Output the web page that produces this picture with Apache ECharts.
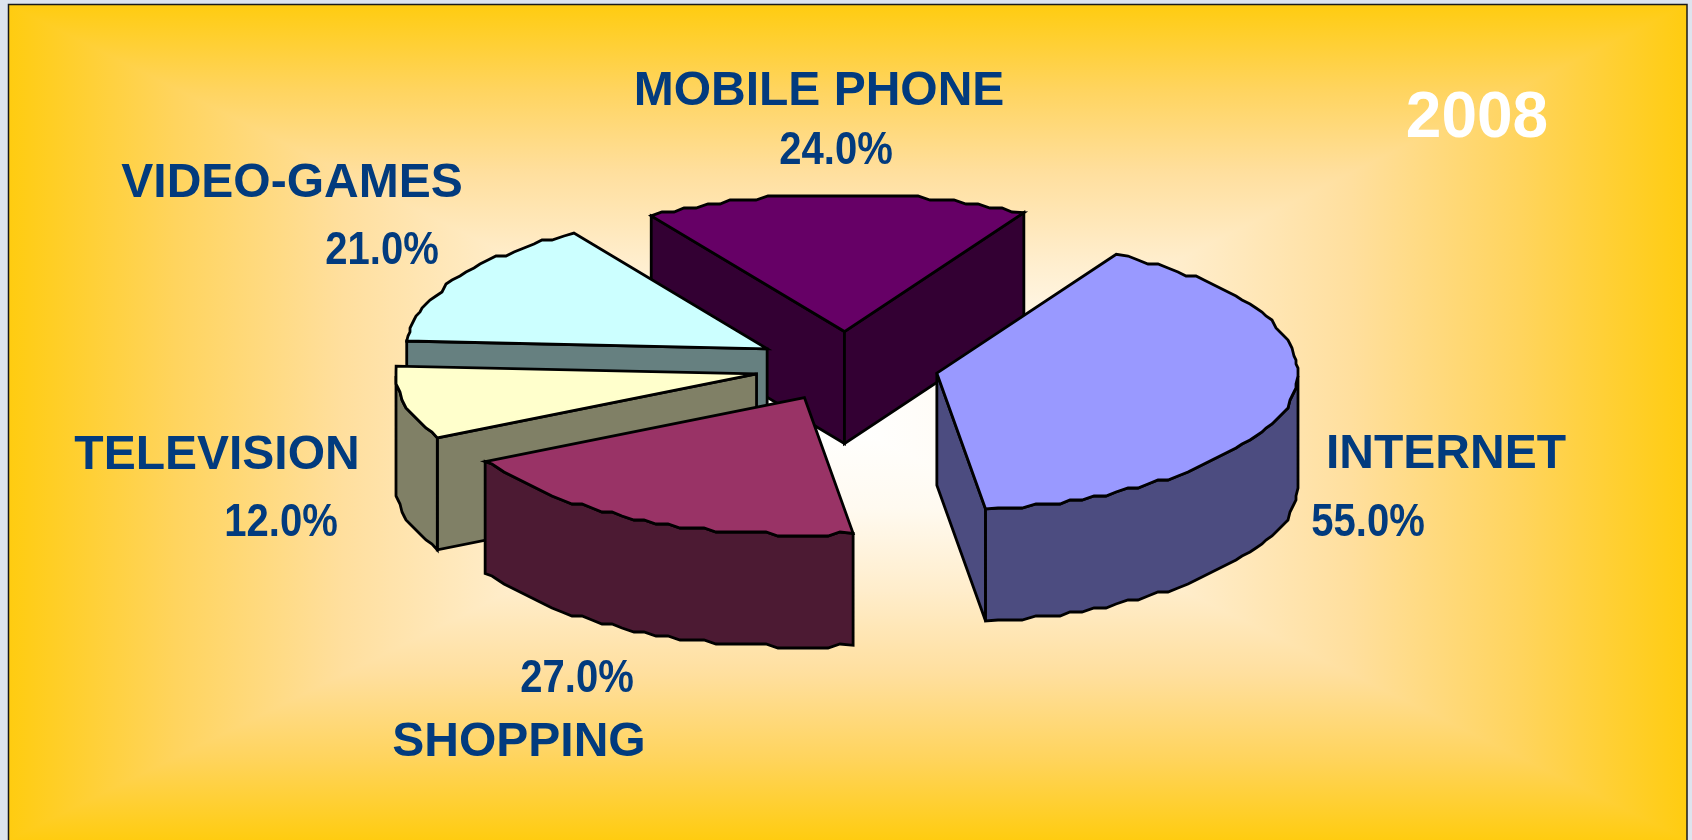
<!DOCTYPE html>
<html>
<head>
<meta charset="utf-8">
<style>html,body{margin:0;padding:0;background:#DDE4EE;}#c{width:1692px;height:840px;}</style>
<script src="https://cdn.jsdelivr.net/npm/echarts@6/dist/echarts.min.js"></script>
</head>
<body>
<div id="c"></div>
<script>
// ---- data ----
const categories = ['INTERNET', 'SHOPPING', 'TELEVISION', 'VIDEO-GAMES', 'MOBILE PHONE'];
const values = [55, 27, 12, 21, 24];
const yearLabel = '2008';
// ---- styling ----
const topColors = ['#9999FF', '#993366', '#FFFFCC', '#CCFFFF', '#660066'];
const sideColors = ['#4C4C80', '#4C1A33', '#808066', '#668080', '#330033'];
const drawOrder = [4, 3, 2, 1, 0];
const nameAnchors = [[1446, 455], [519, 743], [217, 456], [292, 184], [819, 92]];
const valueAnchors = [[1368, 523], [577, 679], [281, 523], [382, 251], [836, 151]];
const INK = '#023B7E';
const PANEL = { x: 8.5, y: 4.5, w: 1678.5, cx: 847, cy: 425, bottom: 840 };
const PIE = { cx: 846.5, cy: 366.5, rx: 361, ry: 137, depth: 112, explode: 0.255, startDeg: 29.8, step: 2 };

// ---- layout from values ----
const total = values.reduce((a, b) => a + b, 0);
const rad = d => d * Math.PI / 180;
const q = (v, g) => Math.round(v / g) * g;
let cursor = PIE.startDeg;
const slices = values.map((v, i) => {
  const start = cursor, end = cursor + v / total * 360;
  cursor = end;
  const mid = rad((start + end) / 2);
  return { i, start, end,
    ax: PIE.cx + PIE.explode * PIE.rx * Math.sin(mid),
    ay: PIE.cy - PIE.explode * PIE.ry * Math.cos(mid) };
});
// rim of a slice: points with their plan angle, slightly faceted like the original metafile drawing
function arc(s) {
  const pts = [];
  const n = Math.max(1, Math.round((s.end - s.start) / PIE.step));
  for (let k = 0; k <= n; k++) {
    const deg = s.start + (s.end - s.start) * k / n;
    const x = s.ax + PIE.rx * Math.sin(rad(deg)), y = s.ay - PIE.ry * Math.cos(rad(deg));
    pts.push({ deg, p: k === 0 || k === n ? [x, y] : [q(x, 2), q(y, 4)] });
  }
  return pts;
}
const drop = pts => pts.map(p => [p[0], p[1] + PIE.depth]);
const edgeStyle = fill => ({ fill, stroke: '#000', lineWidth: 2.8, lineJoin: 'miter', miterLimit: 4 });

function renderSlice(params) {
  const s = slices[drawOrder[params.dataIndex]];
  const children = [];
  const apex = [s.ax, s.ay];
  const poly = (points, fill) => children.push({ type: 'polygon', shape: { points }, style: edgeStyle(fill) });
  const rim = arc(s);
  const first = rim[0].p, last = rim[rim.length - 1].p;
  const side = sideColors[s.i];
  const wall = p => poly([apex, p, [p[0], p[1] + PIE.depth], [apex[0], apex[1] + PIE.depth]], side);
  // radial walls that face the viewer
  if (Math.sin(rad(s.start)) < 0) wall(first);
  if (Math.sin(rad(s.end)) > 0) wall(last);
  // outer wall: only the stretch of rim facing the viewer
  const front = rim.filter(r => r.deg >= 90 && r.deg <= 270).map(r => r.p);
  if (front.length > 1) poly(front.concat(drop(front).reverse()), side);
  poly([apex].concat(rim.map(r => r.p)), topColors[s.i]);
  return { type: 'group', children };
}

// ---- background panel: rectangular gradient from the centre ----
const stops = [[0, '#FFFFFF'], [0.2, '#FFFAF0'], [0.4, '#FFEDCB'], [0.6, '#FFDF9E'], [0.8, '#FFD45E'], [1, '#FFCC10']];
const toStops = rev => (rev ? stops.slice().reverse().map(s => ({ offset: 1 - s[0], color: s[1] }))
                            : stops.map(s => ({ offset: s[0], color: s[1] })));
const P = PANEL, R = P.x + P.w, B = P.bottom;
const bgElements = [
  { type: 'rect', z: -10, shape: { x: P.x, y: P.y, width: P.cx - P.x, height: B - P.y },
    style: { fill: { type: 'linear', x: 0, y: 0, x2: 1, y2: 0, colorStops: toStops(true) } } },
  { type: 'rect', z: -10, shape: { x: P.cx, y: P.y, width: R - P.cx, height: B - P.y },
    style: { fill: { type: 'linear', x: 0, y: 0, x2: 1, y2: 0, colorStops: toStops(false) } } },
  { type: 'polygon', z: -9, shape: { points: [[P.x, P.y], [R, P.y], [P.cx, P.cy]] },
    style: { fill: { type: 'linear', x: 0, y: 0, x2: 0, y2: 1, colorStops: toStops(true) } } },
  { type: 'polygon', z: -9, shape: { points: [[P.x, B], [R, B], [P.cx, P.cy]] },
    style: { fill: { type: 'linear', x: 0, y: 1, x2: 0, y2: 0, colorStops: toStops(true) } } },
  { type: 'rect', z: 5, shape: { x: P.x, y: P.y, width: P.w, height: 860 },
    style: { fill: 'none', stroke: '#1A1A1A', lineWidth: 1.5 } }
];

const textEl = (text, pos, size, fill, scaleX) => ({
  type: 'text', z: 20, x: pos[0], y: pos[1], scaleX: scaleX || 1,
  style: { text, x: 0, y: 0, align: 'center', verticalAlign: 'middle', fill,
    font: 'bold ' + size + 'px "Liberation Sans", Arial, sans-serif' }
});
const textElements = [];
categories.forEach((c, i) => {
  textElements.push(textEl(c, nameAnchors[i], 48, INK));
  textElements.push(textEl(values[i].toFixed(1) + '%', valueAnchors[i], 46, INK, 0.87));
});
textElements.push(textEl(yearLabel, [1477, 119], 64, '#FFFFFF'));

const chart = echarts.init(document.getElementById('c'), null, { renderer: 'canvas', width: 1692, height: 840 });
chart.setOption({
  animation: false,
  backgroundColor: '#DDE4EE',
  graphic: { elements: bgElements.concat(textElements) },
  series: [{
    type: 'custom',
    coordinateSystem: 'none',
    silent: true,
    z: 10,
    renderItem: renderSlice,
    data: drawOrder.map(i => values[i])
  }]
});
</script>
</body>
</html>
